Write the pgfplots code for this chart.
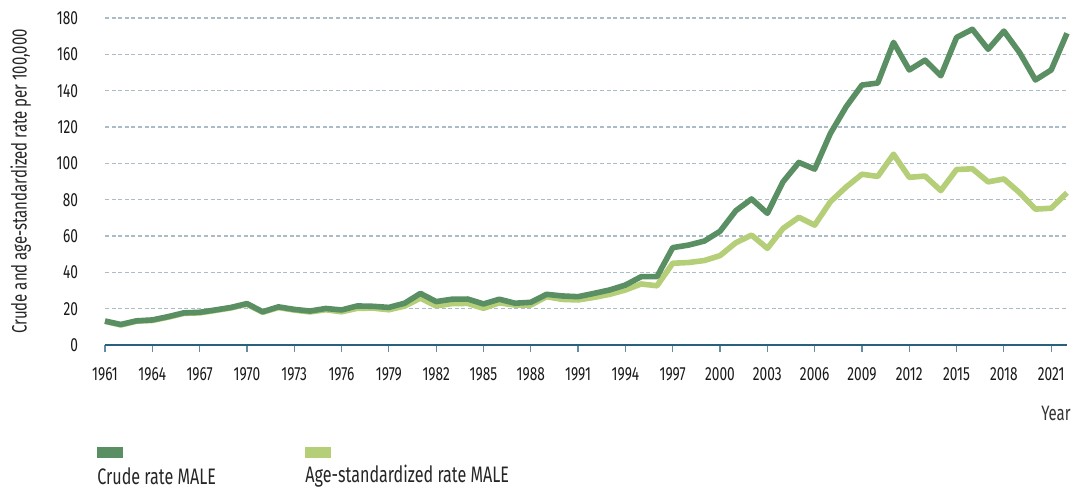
\documentclass[border=0pt]{standalone}
\usepackage{fontspec}
\setmainfont{Fira Sans}[FakeStretch=0.72]
\usepackage{pgfplots}
\pgfplotsset{compat=1.18}
\usepackage{pgfplotstable}
\definecolor{crude}{RGB}{90,143,99}
\definecolor{agestd}{RGB}{181,206,120}
\definecolor{axisc}{RGB}{44,95,124}
\definecolor{tickc}{RGB}{100,140,165}
\definecolor{gridc}{RGB}{170,188,200}
\pgfplotstableread{
year crude age
1961 13.2 13.0
1962 11.3 11.0
1963 13.3 13.1
1964 13.8 13.5
1965 15.6 15.3
1966 17.7 17.4
1967 18.0 17.7
1968 19.3 19.0
1969 20.7 20.4
1970 22.8 22.4
1971 18.3 18.0
1972 21.0 20.6
1973 19.6 19.2
1974 18.7 18.2
1975 20.1 19.4
1976 19.3 18.3
1977 21.5 20.2
1978 21.3 20.3
1979 20.7 19.4
1980 23.0 21.4
1981 28.4 25.8
1982 23.9 21.5
1983 25.2 22.8
1984 25.3 22.9
1985 22.6 20.2
1986 25.2 23.2
1987 23.0 22.0
1988 23.5 22.0
1989 27.9 26.6
1990 27.0 25.1
1991 26.6 24.8
1992 28.4 26.2
1993 30.3 27.9
1994 33.0 30.3
1995 37.6 33.6
1996 37.6 32.6
1997 53.6 45.0
1998 55.0 45.4
1999 57.2 46.5
2000 62.6 49.2
2001 73.9 56.3
2002 80.4 60.5
2003 72.5 53.2
2004 89.9 64.2
2005 100.5 70.3
2006 96.8 66.0
2007 116.5 78.9
2008 131.2 87.0
2009 143.1 94.0
2010 144.2 92.8
2011 166.6 105.0
2012 151.4 92.3
2013 156.8 93.0
2014 148.2 85.0
2015 169.3 96.6
2016 173.8 97.0
2017 162.8 89.8
2018 172.8 91.4
2019 160.9 83.8
2020 145.9 74.8
2021 151.4 75.3
2022 171.6 83.8
}\datatable
\begin{document}
\begin{tikzpicture}
\path[use as bounding box] (-52.5pt,-71.5pt) rectangle (487.5pt,172.5pt);
\begin{axis}[
  at={(0,0)}, anchor=south west,
  scale only axis, width=481pt, height=163.5pt,
  xmin=1961, xmax=2022, ymin=0, ymax=180,
  axis x line*=bottom, axis y line*=left,
  x axis line style={draw=axisc, line width=1.2pt, -},
  y axis line style={draw=none},
  xtick={1961,1964,...,2021},
  minor x tick num=2,
  ytick={0,20,...,180},
  tick align=outside,
  major tick length=3.5pt, minor tick length=1.6pt,
  xtick style={draw=tickc, line width=0.6pt},
  minor x tick style={draw=tickc, line width=0.6pt},
  ytick style={draw=none},
  ymajorgrids,
  grid style={gridc, line width=0.6pt, dash pattern=on 2pt off 1.3pt},
  /pgf/number format/assume math mode=true,
  /pgf/number format/1000 sep={},
  tick label style={font=\fontsize{9.5}{11}\selectfont, text=black!90},
  xticklabel style={yshift=-4.5pt},
  yticklabel style={xshift=-6.5pt},
  ylabel={Crude and age-standardized rate per 100,000},
  ylabel style={font=\fontsize{10.4}{12}\selectfont, text=black!85, yshift=6pt},
  clip=false,
]
\addplot[agestd, line width=2.8pt, line join=round] table[x=year, y=age] {\datatable};
\addplot[crude, line width=2.8pt, line join=round] table[x=year, y=crude] {\datatable};
\end{axis}
\node[anchor=east, inner sep=0pt, font=\fontsize{10.4}{12}\selectfont, text=black!80] at (483pt,-34pt) {Year};
\fill[crude] (-4pt,-51pt) rectangle (9pt,-56.5pt);
\fill[agestd] (100pt,-51pt) rectangle (113pt,-56.5pt);
\node[anchor=west, inner sep=0pt, font=\fontsize{11.2}{13}\selectfont, text=black!85] at (-4pt,-65.5pt) {Crude rate MALE};
\node[anchor=west, inner sep=0pt, font=\fontsize{11.2}{13}\selectfont, text=black!85] at (100pt,-65.5pt) {Age-standardized rate MALE};
\end{tikzpicture}
\end{document}
